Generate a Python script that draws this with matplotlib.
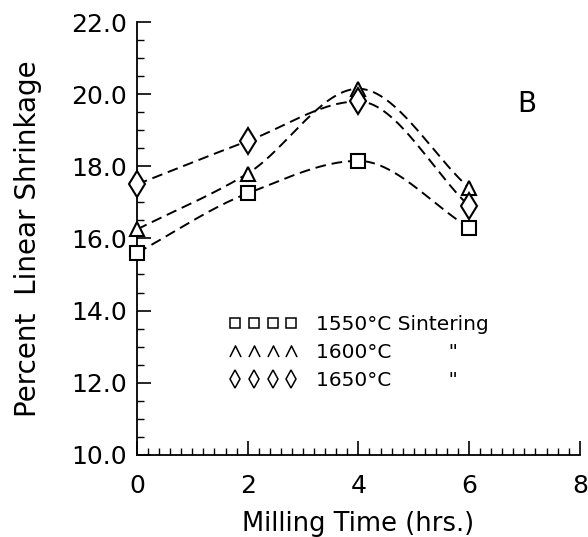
import numpy as np
import matplotlib
matplotlib.use('Agg')
import matplotlib.pyplot as plt
from matplotlib.lines import Line2D

hours = [0, 2, 4, 6]
s1550 = [15.6, 17.25, 18.15, 16.3]
s1600 = [16.25, 17.8, 20.15, 17.4]
s1650 = [17.5, 18.7, 19.8, 16.9]

chevron = [(-1, -1), (0, 1), (1, -1)]

series = [
    (s1550, 's', 10, 's', 6.5, '1550°C Sintering'),
    (s1600, '^', 10, chevron, 8, '1600°C         "'),
    (s1650, 'd', 13, 'd', 9, '1650°C         "'),
]

plt.rcParams['font.family'] = ['DejaVu Sans']

fig = plt.figure(figsize=(5.88, 5.37), dpi=100)
ax = fig.add_axes([0.233, 0.153, 0.753, 0.806])

def pchip(x, y, n=200):
    # shape-preserving cubic through the measured points
    x = np.asarray(x, float)
    y = np.asarray(y, float)
    h = np.diff(x)
    d = np.diff(y) / h
    m = np.zeros_like(y)
    for k in range(1, len(x) - 1):
        if d[k - 1] * d[k] > 0:
            w1 = 2 * h[k] + h[k - 1]
            w2 = h[k] + 2 * h[k - 1]
            m[k] = (w1 + w2) / (w1 / d[k - 1] + w2 / d[k])
    m[0] = d[0]
    m[-1] = d[-1]
    xs = np.linspace(x[0], x[-1], n)
    i = np.clip(np.searchsorted(x, xs) - 1, 0, len(x) - 2)
    t = (xs - x[i]) / h[i]
    h00 = 2 * t**3 - 3 * t**2 + 1
    h10 = t**3 - 2 * t**2 + t
    h01 = -2 * t**3 + 3 * t**2
    h11 = t**3 - t**2
    ys = h00 * y[i] + h10 * h[i] * m[i] + h01 * y[i + 1] + h11 * h[i] * m[i + 1]
    return xs, ys

handles = []
for y, m, ms, lm, lms, label in series:
    xs, ys = pchip(hours, y)
    ax.plot(xs, ys, color='black', lw=1.4, dashes=(5.5, 3), zorder=2)
    ax.plot(hours, y, m, ms=ms, mfc='white', mec='black',
            mew=1.5, zorder=3, clip_on=False)
    handles.append(Line2D([], [], marker=lm, ls='none', ms=lms,
                          mfc='white', mec='black', mew=1.1, label=label))

ax.set_xlim(0, 8)
ax.set_ylim(10, 22)
ax.set_xticks([0, 2, 4, 6, 8])
ax.set_xticks(np.arange(0, 8.01, 0.2), minor=True)
ax.set_yticks(np.arange(10, 22.1, 2))
ax.set_yticklabels([f'{v:.1f}' for v in np.arange(10, 22.1, 2)])
ax.set_yticks(np.arange(10, 22.1, 0.5), minor=True)

for side in ['top', 'right']:
    ax.spines[side].set_visible(False)
ax.spines['left'].set_linewidth(1.3)
ax.spines['bottom'].set_linewidth(1.3)

ax.tick_params(which='major', direction='in', length=10, width=1.2, labelsize=18)
ax.tick_params(axis='y', which='major', pad=7)
ax.tick_params(axis='x', which='major', pad=14)
ax.tick_params(which='minor', direction='in', length=5, width=1.0)

ax.set_xlabel('Milling Time (hrs.)', fontsize=18.5, labelpad=9)
ax.set_ylabel('Percent  Linear Shrinkage', fontsize=20, labelpad=21)

ax.text(0.88, 0.81, 'B', transform=ax.transAxes, fontsize=20, ha='center', va='center')

ax.legend(handles=handles, loc='lower left', bbox_to_anchor=(0.185, 0.127),
          numpoints=4, handlelength=3.4, handletextpad=0.9, frameon=False,
          fontsize=14.5, labelspacing=0.45, borderpad=0)

fig.savefig('out.png', dpi=100)
